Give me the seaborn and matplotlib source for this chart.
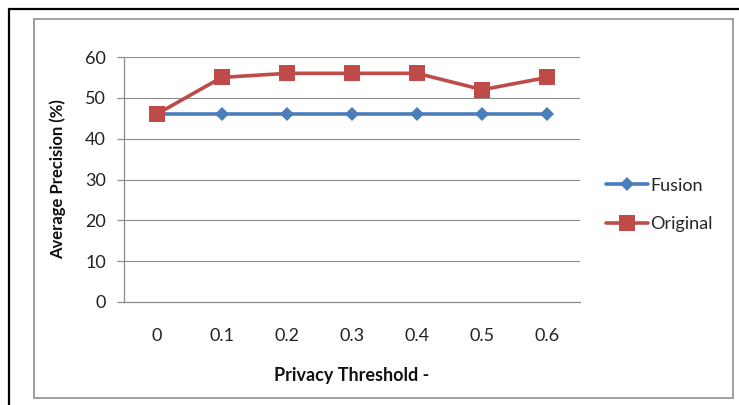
import matplotlib
matplotlib.use("Agg")
import matplotlib.pyplot as plt
from matplotlib.lines import Line2D
from matplotlib.patches import Rectangle
from matplotlib.ticker import FixedLocator, NullFormatter
import seaborn as sns
import pandas as pd

thresholds = ["0", "0.1", "0.2", "0.3", "0.4", "0.5", "0.6"]
fusion = [46, 46, 46, 46, 46, 46, 46]
original = [46, 55, 56, 56, 56, 52, 55]
series_names = ["Fusion", "Original"]
colors = {"Fusion": "#4A7EBB", "Original": "#BE4B48"}

df = pd.DataFrame({
    "threshold": thresholds * 2,
    "precision": fusion + original,
    "series": [series_names[0]] * len(thresholds) + [series_names[1]] * len(thresholds),
})

sns.set_style("white")
plt.rcParams["font.family"] = ["Lato", "DejaVu Sans"]

W, H = 739, 405
fig = plt.figure(figsize=(W / 100, H / 100), dpi=100)
fig.patch.set_facecolor("white")

# outer black frame (top and left) and inner gray chart box
fig.add_artist(Line2D([9 / W, 1], [1 - 9 / H, 1 - 9 / H], color="black", lw=1.6))
fig.add_artist(Line2D([9 / W, 9 / W], [0, 1 - 9 / H], color="black", lw=1.6))
fig.add_artist(Rectangle((34 / W, 1 - 398 / H), (733 - 34) / W, (398 - 19) / H,
                         fill=False, ec="#A0A0A0", lw=1.4))

ax = fig.add_axes([124 / W, 1 - 302 / H, (580 - 124) / W, (302 - 57) / H])

sns.lineplot(data=df, x="threshold", y="precision", hue="series", style="series",
             markers={"Fusion": "D", "Original": "s"}, dashes=False,
             palette=colors, lw=2.6, ax=ax, sort=False,
             markeredgewidth=0, legend=False)
for line in ax.lines:
    if line.get_marker() == "D":
        line.set_markersize(7)
    else:
        line.set_markersize(11)

ax.set_xlim(-0.5, len(thresholds) - 0.5)
ax.set_ylim(0, 60)
ax.set_yticks(range(0, 61, 10))
ax.yaxis.grid(True, color="#8C8C8C", lw=0.8)
ax.set_axisbelow(True)
for s in ["top", "right"]:
    ax.spines[s].set_visible(False)
for s in ["left", "bottom"]:
    ax.spines[s].set_color("#8C8C8C")
    ax.spines[s].set_linewidth(0.9)

ax.xaxis.set_minor_locator(FixedLocator([i - 0.5 for i in range(len(thresholds) + 1)]))
ax.xaxis.set_minor_formatter(NullFormatter())
ax.tick_params(axis="x", which="major", length=0, pad=19, labelsize=13, colors="#222222")
ax.tick_params(axis="x", which="minor", length=5, width=0.9, color="#8C8C8C", direction="out")
ax.tick_params(axis="y", which="major", length=5, width=0.9, color="#8C8C8C", direction="out",
               labelsize=13, labelcolor="#222222", pad=8, left=True)

ax.set_xlabel("Privacy Threshold -", fontsize=13, fontweight="bold", color="#111111", va="center")
ax.set_ylabel("Average Precision (%)", fontsize=12, fontweight="bold", color="#111111", va="center")
ax.xaxis.set_label_coords(0.5, (302 - 376) / 245)
ax.yaxis.set_label_coords((58 - 124) / 456, 0.5)

handles = [
    Line2D([], [], color=colors["Fusion"], lw=2.6, marker="D", markersize=7, markeredgewidth=0),
    Line2D([], [], color=colors["Original"], lw=2.6, marker="s", markersize=11, markeredgewidth=0),
]
fig.legend(handles, series_names, loc="center left", bbox_to_anchor=(606 / W, 1 - 205 / H),
           frameon=False, fontsize=13, handlelength=2.3, handletextpad=0.15,
           labelspacing=1.25, borderaxespad=0, borderpad=0)

fig.savefig("out.png", dpi=100)
